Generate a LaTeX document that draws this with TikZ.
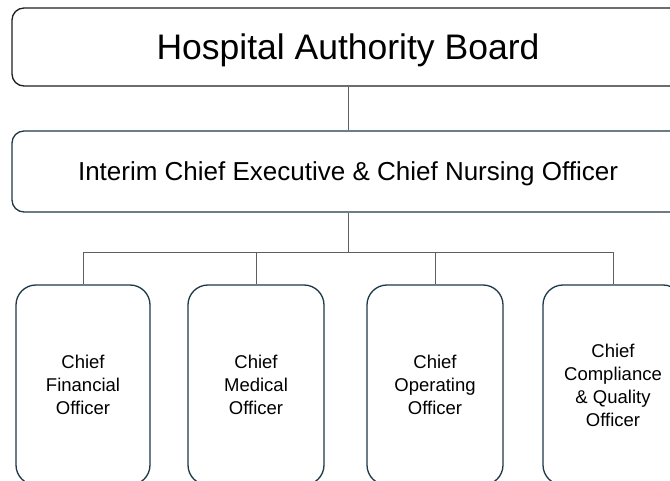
\documentclass[tikz,border=0pt]{standalone}
\usepackage{fontspec}
\setmainfont{Liberation Sans}
\usetikzlibrary{positioning}
\definecolor{boardline}{RGB}{30,30,30}
\definecolor{execline}{RGB}{31,56,72}
\definecolor{linkgray}{RGB}{95,95,95}

\begin{document}
\begin{tikzpicture}[x=1pt, y=-1pt,
    topbox/.style={draw=boardline, line width=1.3pt, rounded corners=12pt, minimum width=672pt, inner sep=0pt, text depth=0pt},
    officerbox/.style={draw=execline, line width=1.3pt, rounded corners=20pt, minimum height=200pt, inner sep=0pt, align=center, font=\fontsize{18.5}{23}\selectfont},
    link/.style={draw=linkgray, line width=0.8pt}]
  \useasboundingbox (0,0) rectangle (670,481);
  \clip (0,0) rectangle (670,481);
  % board and executive
  \node[topbox, minimum height=78pt, font=\fontsize{35.5}{40}\selectfont] (board) at (348,47) {Hospital Authority Board};
  \node[topbox, draw=execline, minimum height=81pt, font=\fontsize{26}{31}\selectfont] (ceo) at (348,171.5) {Interim Chief Executive \& Chief Nursing Officer};
  % officers
  \node[officerbox, minimum width=134pt] (cfo) at (83,385) {Chief\\Financial\\Officer};
  \node[officerbox, minimum width=136pt] (cmo) at (256,385) {Chief\\Medical\\Officer};
  \node[officerbox, minimum width=136pt] (coo) at (435,385) {Chief\\Operating\\Officer};
  \node[officerbox, minimum width=140pt] (cqo) at (613,385) {Chief\\Compliance\\\& Quality\\Officer};
  % connectors
  \coordinate (bar) at (348,252);
  \draw[link] (board) -- (ceo);
  \draw[link] (ceo) -- (bar);
  \foreach \n in {cfo, cmo, coo, cqo}
    \draw[link] (bar) -| (\n.north);
\end{tikzpicture}
\end{document}
